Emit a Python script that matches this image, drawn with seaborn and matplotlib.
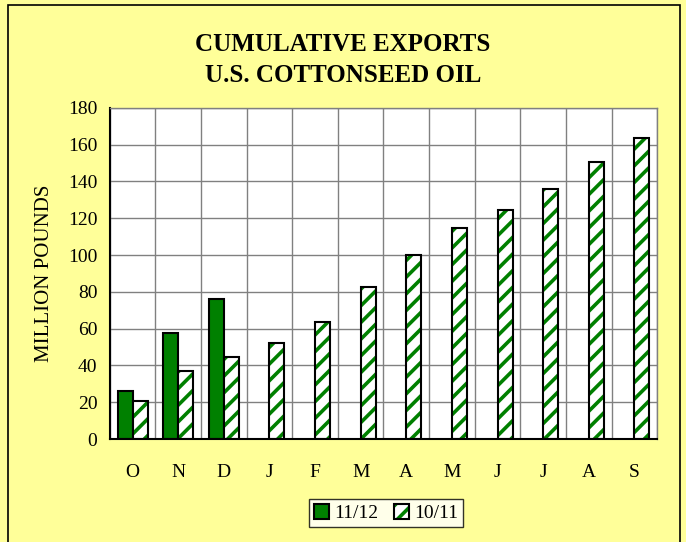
import numpy as np
import pandas as pd
import seaborn as sb
import matplotlib.pyplot as plt
from matplotlib.patches import Rectangle
from matplotlib.colors import to_rgba

months = ["O", "N", "D", "J", "F", "M", "A", "M", "J", "J", "A", "S"]
season_new = [26, 57.5, 76]  # 11/12
season_old = [20.5, 37, 44.5, 52, 63.5, 82.5, 100, 114.5, 124.5, 136, 150.5, 163.5]  # 10/11
y_ticks = list(range(0, 181, 20))

rows = []
for i, m in enumerate(months):
    rows.append({"pos": i, "season": "11/12", "value": season_new[i] if i < len(season_new) else np.nan})
    rows.append({"pos": i, "season": "10/11", "value": season_old[i]})
df = pd.DataFrame(rows)

sb.set_style("white")
plt.rcParams["font.family"] = ["Liberation Serif", "DejaVu Serif"]
plt.rcParams["text.color"] = "black"
plt.rcParams["axes.labelcolor"] = "black"
plt.rcParams["xtick.color"] = "black"
plt.rcParams["ytick.color"] = "black"
plt.rcParams["hatch.linewidth"] = 2.6

fig = plt.figure(figsize=(6.86, 5.42), dpi=100, facecolor="#FFFF99")
ax = fig.add_axes([0.160, 0.190, 0.798, 0.611])

green = "#008000"
sb.barplot(data=df, x="pos", y="value", hue="season", hue_order=["11/12", "10/11"],
           palette=[green, "white"], width=0.66, dodge=True, ax=ax,
           edgecolor="black", linewidth=1.5, saturation=1, legend=False)

# the white series (10/11) gets the green diagonal hatch
for p in ax.patches:
    if p.get_facecolor()[:3] == (1.0, 1.0, 1.0):
        p.set_hatch("//")
        p._hatch_color = to_rgba(green)

ax.set_ylim(0, 180)
ax.set_xlim(-0.5, len(months) - 0.5)
ax.set_yticks(y_ticks)
ax.set_xticks(range(len(months)))
ax.set_xticklabels(months)
ax.set_xticks(np.arange(-0.5, len(months), 1), minor=True)
ax.tick_params(axis="x", which="major", length=0, pad=18, labelsize=14)
ax.tick_params(axis="x", which="minor", length=6, width=1, direction="inout", color="black")
ax.tick_params(axis="y", length=6, width=1, direction="out", color="black", labelsize=14, pad=3)
ax.grid(True, axis="y", which="major", color="#808080", linewidth=1)
ax.grid(True, axis="x", which="minor", color="#808080", linewidth=1)
ax.set_axisbelow(True)
for side in ["left", "bottom"]:
    ax.spines[side].set_color("black")
    ax.spines[side].set_linewidth(1.5)
for side in ["right", "top"]:
    ax.spines[side].set_color("#808080")
    ax.spines[side].set_linewidth(1)
ax.set_xlabel("")
ax.set_ylabel("MILLION POUNDS", fontsize=15, labelpad=10)

fig.text(0.5, 0.889, "CUMULATIVE EXPORTS\nU.S. COTTONSEED OIL", ha="center", va="center",
         fontsize=18, fontweight="bold", linespacing=1.45)

h1 = Rectangle((0, 0), 1, 1, facecolor=green, edgecolor="black", linewidth=1.5)
h2 = Rectangle((0, 0), 1, 1, facecolor="white", edgecolor="black", linewidth=1.5, hatch="//")
leg = fig.legend([h1, h2], ["11/12", "10/11"], loc="center", bbox_to_anchor=(0.563, 0.053),
                 ncol=2, fontsize=14, frameon=True, fancybox=False, handlelength=0.75,
                 handleheight=0.75, handletextpad=0.3, columnspacing=0.8, borderpad=0.25)
leg.get_frame().set_edgecolor("black")
leg.get_frame().set_linewidth(1)
for lp in leg.get_patches():
    if lp.get_hatch():
        lp._hatch_color = to_rgba(green)

fig.patches.append(Rectangle((0.011, -0.01), 0.98, 1.0, transform=fig.transFigure,
                             fill=False, edgecolor="black", linewidth=1.2))

fig.savefig("out.png", dpi=100, facecolor=fig.get_facecolor())
